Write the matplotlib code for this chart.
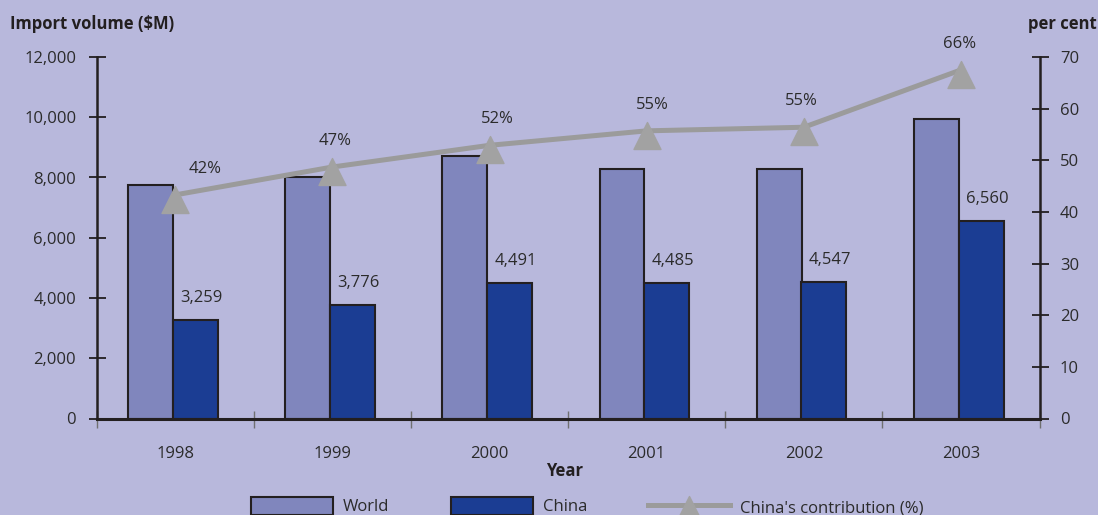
import matplotlib
matplotlib.use('Agg')
import matplotlib.pyplot as plt
import numpy as np
from matplotlib.patches import Patch
from matplotlib.lines import Line2D
from matplotlib.path import Path
from matplotlib.ticker import FuncFormatter

# ---- data ----
years = ['1998', '1999', '2000', '2001', '2002', '2003']
world = [7760, 8030, 8720, 8280, 8280, 9940]
china = [3259, 3776, 4491, 4485, 4547, 6560]
china_labels = ['3,259', '3,776', '4,491', '4,485', '4,547', '6,560']
share = [43.3, 48.7, 52.9, 55.7, 56.4, 67.5]
share_labels = ['42%', '47%', '52%', '55%', '55%', '66%']
left_ticks = [0, 2000, 4000, 6000, 8000, 10000, 12000]
right_ticks = [0, 10, 20, 30, 40, 50, 60, 70]

# ---- style ----
plt.rcParams['font.family'] = ['Open Sans', 'DejaVu Sans']
BG = '#b8b8dc'
WORLD_C = '#8086bd'
CHINA_C = '#1b3d93'
LINE_C = '#9b9b9b'
DARK = '#231f20'
TXT = '#2b2b2b'
W, H = 1098, 515
PX = 0.72  # points per pixel at dpi 100

fig = plt.figure(figsize=(W / 100, H / 100), dpi=100, facecolor=BG)
ax = fig.add_axes([96.7 / W, 96.5 / H, 942.8 / W, 361.5 / H])
ax.set_facecolor(BG)

x = np.arange(len(years))
bw = 0.286
ax.bar(x - 0.300, world, width=bw, align='edge', color=WORLD_C,
       edgecolor=DARK, linewidth=1.5, zorder=2)
ax.bar(x - 0.015, china, width=bw, align='edge', color=CHINA_C,
       edgecolor=DARK, linewidth=1.5, zorder=2)

for xi, v, lab in zip(x, china, china_labels):
    ax.annotate(lab, (xi - 0.015 + bw / 2, v), xytext=(6 * PX, 22 * PX),
                textcoords='offset points', ha='center', va='center',
                fontsize=12, color=TXT)

ax.set_xlim(-0.5, len(years) - 0.5)
ax.set_ylim(0, 12000)
ax.set_yticks(left_ticks)
ax.yaxis.set_major_formatter(FuncFormatter(lambda v, p: f'{v:,.0f}'))
ax.tick_params(axis='y', direction='inout', length=17 * PX, width=1.3,
               color=DARK, pad=12 * PX, labelsize=12, labelcolor=TXT)
ax.set_xticks(x)
ax.set_xticklabels(years)
ax.set_xticks(np.arange(-0.5, len(years), 1), minor=True)
ax.tick_params(axis='x', which='major', length=0, pad=20, labelsize=12,
               labelcolor=TXT)
ax.tick_params(axis='x', which='minor', direction='inout', length=17 * PX,
               width=1.0, color='#707070')
for s in ['top', 'right']:
    ax.spines[s].set_visible(False)
ax.spines['left'].set_color(DARK)
ax.spines['left'].set_linewidth(1.8)
ax.spines['bottom'].set_color(DARK)
ax.spines['bottom'].set_linewidth(2.2)
ax.spines['bottom'].set_zorder(5)

# right axis with contribution line
ax2 = ax.twinx()
ax2.patch.set_visible(False)
ax2.set_ylim(0, 70)
ax2.set_yticks(right_ticks)
ax2.tick_params(axis='y', direction='inout', length=17 * PX, width=1.3,
                color=DARK, pad=12 * PX, labelsize=12, labelcolor=TXT)
for s in ['top', 'left', 'bottom']:
    ax2.spines[s].set_visible(False)
ax2.spines['right'].set_color(DARK)
ax2.spines['right'].set_linewidth(1.8)

# triangle whose reference point lies one third below the apex
tri = Path([(0, 9), (-13.5, -18), (13.5, -18), (0, 9)],
           [Path.MOVETO, Path.LINETO, Path.LINETO, Path.CLOSEPOLY])
MS = 36 * PX
ax2.plot(x, share, color=LINE_C, linewidth=3.6, marker=tri, markersize=MS,
         markerfacecolor='#a2a2a2', markeredgecolor='#a2a2a2', zorder=4)

dx_px = [30, 3, 8, 6, -2, -1]
for xi, v, lab, dx in zip(x, share, share_labels, dx_px):
    ax2.annotate(lab, (xi, v), xytext=(dx * PX, 26 * PX),
                 textcoords='offset points', ha='center', va='center',
                 fontsize=12, color=TXT)

# texts
fig.text(10 / W, 1 - 24 / H, 'Import volume (\\$M)', fontsize=12,
         fontweight='bold', color=DARK, ha='left', va='center')
fig.text(1097 / W, 1 - 24 / H, 'per cent', fontsize=12,
         fontweight='bold', color=DARK, ha='right', va='center')
fig.text(565 / W, 1 - 471 / H, 'Year', fontsize=12,
         fontweight='bold', color=DARK, ha='center', va='center')

# legend entries
FS_PX = 12 / PX
common = dict(loc='center left', frameon=False, borderpad=0,
              borderaxespad=0, fontsize=12, handlelength=82 / FS_PX,
              handleheight=22 / FS_PX, handletextpad=10 / FS_PX,
              labelcolor=TXT)
fig.legend(handles=[Patch(facecolor=WORLD_C, edgecolor=DARK, linewidth=1.5)],
           labels=['World'], bbox_to_anchor=(251 / W, 1 - 506 / H), **common)
fig.legend(handles=[Patch(facecolor=CHINA_C, edgecolor=DARK, linewidth=1.5)],
           labels=['China'], bbox_to_anchor=(451 / W, 1 - 506 / H), **common)
fig.legend(handles=[Line2D([], [], color=LINE_C, linewidth=3.6, marker=tri,
                           markersize=MS, markerfacecolor='#a2a2a2',
                           markeredgecolor='#a2a2a2')],
           labels=["China's contribution (%)"],
           bbox_to_anchor=(648 / W, 1 - 507 / H), numpoints=1, **common)

fig.savefig('out.png', dpi=100, facecolor=BG)
